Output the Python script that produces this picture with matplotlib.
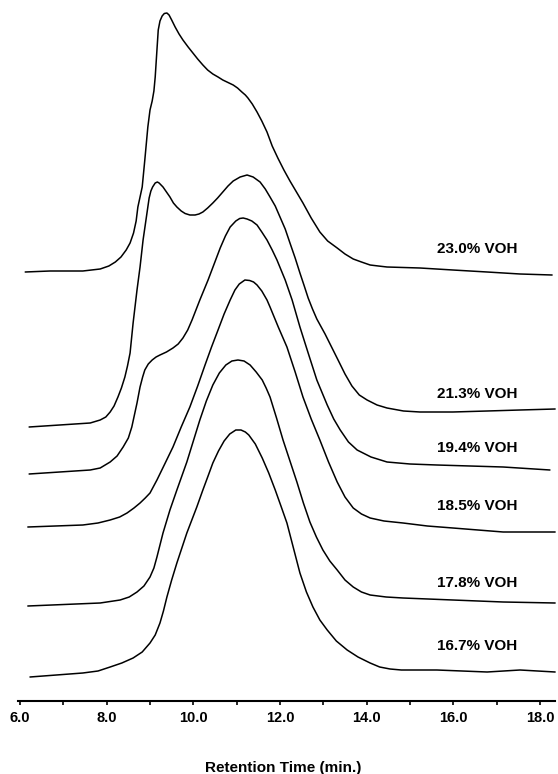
import matplotlib.pyplot as plt

# Retention time (min) and detector response for each VOH content
time_230 = [6.12, 6.69, 7.45, 7.85, 8.05, 8.20, 8.33, 8.45, 8.54, 8.62, 8.68, 8.72, 8.77, 8.82,
            8.88, 8.95, 9.00, 9.05, 9.09, 9.12, 9.16, 9.19, 9.23, 9.28, 9.33, 9.39, 9.44, 9.50,
            9.58, 9.67, 9.76, 9.88, 9.99, 10.10, 10.22, 10.33, 10.45, 10.57, 10.68, 10.80, 10.92,
            11.02, 11.12, 11.20, 11.26, 11.36, 11.47, 11.58, 11.70, 11.82, 11.95, 12.09, 12.23,
            12.38, 12.53, 12.72, 12.92, 13.10, 13.32, 13.50, 13.69, 13.88, 14.08, 14.27, 14.47,
            15.23, 15.99, 16.78, 17.54, 18.28]
resp_230 = [429, 430, 430, 432, 435, 439, 444, 451, 458, 468, 480, 494, 504, 514,
            541, 574, 591, 600, 610, 624, 651, 671, 680, 685, 687.5, 688, 686, 681,
            674, 667, 661, 654, 648, 642, 636, 631, 627, 624, 621, 618.5, 616,
            613, 609, 606, 603, 597, 589, 580, 569, 555, 543, 531, 520,
            509, 498, 483, 469, 460, 453, 447, 442, 439, 436, 435, 434,
            433, 431, 429, 427, 426]

time_213 = [6.21, 7.62, 7.85, 7.98, 8.08, 8.17, 8.26, 8.34, 8.42, 8.48, 8.54, 8.61, 8.70, 8.77,
            8.84, 8.93, 8.98, 9.02, 9.06, 9.12, 9.17, 9.21, 9.30, 9.38, 9.46, 9.54, 9.62, 9.72,
            9.81, 9.92, 10.04, 10.13, 10.22, 10.33, 10.45, 10.56, 10.68, 10.80, 10.92, 11.08,
            11.24, 11.38, 11.54, 11.66, 11.77, 11.89, 12.00, 12.12, 12.23, 12.35, 12.46, 12.56,
            12.65, 12.75, 12.85, 13.04, 13.19, 13.34, 13.50, 13.66, 13.83, 14.01, 14.24, 14.47,
            14.85, 15.23, 15.99, 16.78, 17.54, 18.35]
resp_213 = [274, 278, 281, 284, 289, 295, 304, 313, 324, 335, 348, 378, 411, 434,
            461, 488, 503, 510, 514, 518, 519, 518, 514, 509, 504, 498, 494, 490,
            487.5, 486, 486, 487, 489, 493, 498, 503, 509, 515, 520, 524,
            526, 524, 519, 512, 504, 495, 484, 472, 458, 443, 428, 415,
            403, 392, 382, 367, 354, 341, 327, 315, 306, 301, 296, 293,
            290, 289, 289, 290, 291, 292]

time_194 = [6.21, 7.62, 7.85, 8.08, 8.24, 8.38, 8.50, 8.58, 8.64, 8.70, 8.77, 8.83, 8.88, 8.96,
            9.05, 9.14, 9.23, 9.38, 9.53, 9.65, 9.76, 9.87, 9.97, 10.06, 10.15, 10.34, 10.48,
            10.62, 10.74, 10.85, 10.98, 11.07, 11.15, 11.24, 11.35, 11.47, 11.58, 11.70, 11.82,
            11.93, 12.12, 12.28, 12.46, 12.65, 12.85, 13.09, 13.24, 13.39, 13.58, 13.78, 14.10,
            14.47, 15.00, 15.62, 17.15, 18.23]
resp_194 = [227, 231, 233, 239, 245, 254, 263, 274, 286, 298, 314, 324, 331, 337,
            341, 344, 346, 349, 353, 357, 363, 371, 381, 391, 401, 421, 437,
            453, 465, 474, 480, 482.5, 483, 482, 480, 476, 469, 461, 451,
            441, 421, 401, 374, 348, 321, 296, 282, 271, 259, 251, 244,
            239, 237, 236, 234, 231]

time_185 = [6.18, 7.45, 7.80, 8.08, 8.30, 8.47, 8.63, 8.77, 8.89, 9.00, 9.16, 9.34, 9.53, 9.72,
            9.92, 10.10, 10.27, 10.42, 10.57, 10.71, 10.85, 10.96, 11.06, 11.19, 11.30, 11.39,
            11.47, 11.58, 11.70, 11.77, 11.96, 12.16, 12.35, 12.53, 12.72, 12.92, 13.12, 13.32,
            13.50, 13.69, 13.88, 14.08, 14.40, 14.84, 15.40, 15.99, 17.15, 18.35]
resp_185 = [174, 176, 178, 181, 184, 188, 193, 198, 203, 208, 221, 237, 254, 274,
            294, 315, 336, 354, 371, 387, 401, 411, 417, 421, 420.5, 419,
            416, 410, 401, 394, 374, 354, 329, 304, 282, 261, 239, 219,
            204, 193, 187, 183, 180, 178, 175, 173, 169, 169]

time_178 = [6.18, 7.85, 8.31, 8.52, 8.70, 8.86, 9.00, 9.09, 9.16, 9.23, 9.30, 9.46, 9.62, 9.85,
            10.00, 10.15, 10.30, 10.45, 10.60, 10.75, 10.89, 11.03, 11.17, 11.31, 11.45, 11.59,
            11.68, 11.77, 11.92, 12.07, 12.23, 12.39, 12.54, 12.69, 12.84, 12.99, 13.15, 13.32,
            13.50, 13.69, 13.88, 14.08, 14.45, 14.84, 15.99, 17.15, 18.35]
resp_178 = [95, 98, 101, 104, 109, 115, 124, 133, 144, 156, 168, 191, 211, 239,
            260, 281, 300, 316, 328, 336, 340, 341, 340, 336, 329, 321,
            313, 304, 283, 261, 240, 219, 198, 179, 164, 151, 140, 131,
            121, 114, 109, 106, 104, 103, 101, 99, 98]

time_167 = [6.23, 7.45, 7.80, 8.08, 8.35, 8.61, 8.82, 9.00, 9.12, 9.23, 9.31, 9.39, 9.50, 9.62,
            9.85, 10.08, 10.22, 10.34, 10.45, 10.58, 10.71, 10.84, 10.98, 11.10, 11.20, 11.28,
            11.43, 11.59, 11.74, 11.89, 12.03, 12.16, 12.31, 12.46, 12.61, 12.76, 12.92, 13.09,
            13.30, 13.55, 13.80, 14.08, 14.30, 14.54, 14.80, 15.62, 16.78, 17.54, 18.35]
resp_167 = [24, 28, 30, 34, 38, 43, 49, 58, 66, 78, 90, 104, 121, 138,
            168, 194, 211, 225, 238, 250, 260, 267, 271, 271, 269, 266,
            257, 243, 228, 211, 194, 178, 153, 128, 109, 94, 81, 71,
            60, 51, 44, 38, 34, 32, 31, 31, 29, 31, 29]

labels = ['23.0% VOH', '21.3% VOH', '19.4% VOH', '18.5% VOH', '17.8% VOH', '16.7% VOH']
label_y = [448, 303, 249, 191, 114, 51]

times = [time_230, time_213, time_194, time_185, time_178, time_167]
resps = [resp_230, resp_213, resp_194, resp_185, resp_178, resp_167]

plt.rcParams['font.family'] = ['Liberation Sans', 'DejaVu Sans']

fig = plt.figure(figsize=(5.58, 7.74), dpi=100)
ax = fig.add_axes([0, 73 / 774, 1, 701 / 774])

for t, r in zip(times, resps):
    ax.plot(t, r, color='black', lw=1.1, solid_joinstyle='round', solid_capstyle='round')

for lab, y in zip(labels, label_y):
    ax.text(16.56, y, lab, ha='center', va='baseline', fontsize=11, fontweight='bold')

ax.set_xlim(5.538, 18.416)
ax.set_ylim(0, 701)

for s in ['left', 'right', 'top']:
    ax.spines[s].set_visible(False)
ax.spines['bottom'].set_bounds(5.95, 18.35)
ax.spines['bottom'].set_linewidth(1.5)

ax.set_yticks([])
ax.set_xticks([6, 8, 10, 12, 14, 16, 18])
ax.set_xticklabels(['6.0', '8.0', '10.0', '12.0', '14.0', '16.0', '18.0'],
                   fontsize=10.5, fontweight='bold')
ax.set_xticks([7, 9, 11, 13, 15, 17], minor=True)
ax.tick_params(axis='x', which='both', direction='out', length=3, width=1.2, pad=4.5)

fig.text(283 / 558, 0.003, 'Retention Time (min.)', ha='center', va='baseline',
         fontsize=11, fontweight='bold')

fig.savefig('out.png', dpi=100)
